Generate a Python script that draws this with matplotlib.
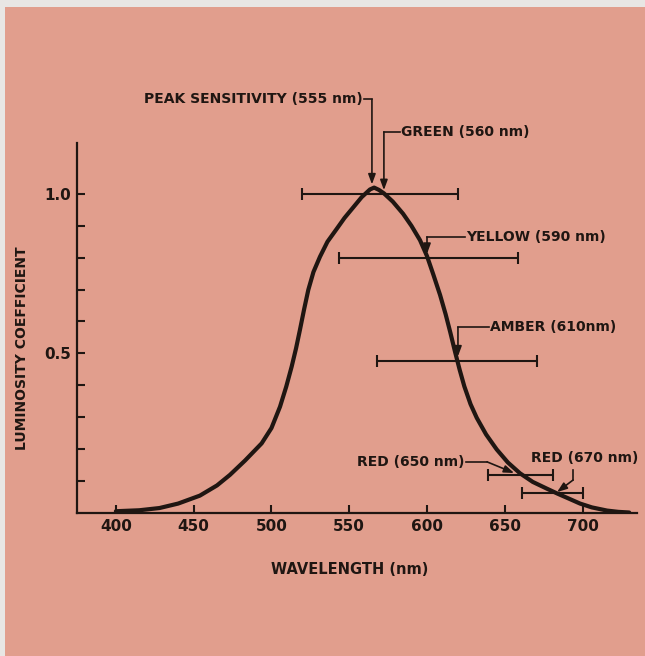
import matplotlib
matplotlib.use("Agg")
import matplotlib.pyplot as plt
from matplotlib.patches import Rectangle

# Curva de luminosidad (longitud de onda en nm, coeficiente)
longitud_onda = [400, 415, 428, 440, 454, 465, 473.3, 483, 493.7, 500, 505.5,
                 509.5, 513, 515.8, 518.3, 521, 523.7, 527, 531.2, 536, 541.9,
                 547, 552.6, 558, 563.3, 566, 569, 572.3, 578, 584.6, 590, 595.5,
                 600, 604, 608.4, 612, 615, 618, 621, 624, 628, 632, 638, 644.8,
                 652, 659.8, 668, 677, 684, 691, 698.4, 706, 715.8, 723, 730]
luminosidad = [0.004, 0.007, 0.014, 0.028, 0.053, 0.085, 0.118, 0.163, 0.217,
               0.265, 0.332, 0.395, 0.458, 0.515, 0.573, 0.638, 0.699, 0.755,
               0.803, 0.850, 0.890, 0.925, 0.958, 0.990, 1.014, 1.02, 1.013,
               1.002, 0.976, 0.938, 0.900, 0.855, 0.805, 0.748, 0.683, 0.622,
               0.565, 0.505, 0.448, 0.396, 0.340, 0.297, 0.245, 0.198, 0.157,
               0.123, 0.096, 0.075, 0.059, 0.044, 0.028, 0.016, 0.006, 0.002, 0.0]

# Barras de ancho espectral (izquierda, derecha, nivel)
barra_izq = [519.6, 543.4, 567.8, 639.2, 661.1]
barra_der = [620.0, 658.5, 670.7, 681.0, 700.3]
barra_nivel = [1.0, 0.80, 0.475, 0.118, 0.061]

# Etiquetas de los ejes
ticks_x = [400, 450, 500, 550, 600, 650, 700]
ticks_y_mayores = [0.5, 1.0]
ticks_y_menores = [0.1, 0.2, 0.3, 0.4, 0.6, 0.7, 0.8, 0.9]

# Anotaciones: texto, posición del texto, alineación, trazo guía (último punto = punta)
anot_textos = ["PEAK SENSITIVITY (555 nm)", "GREEN (560 nm)", "YELLOW (590 nm)",
               "AMBER (610nm)", "RED (650 nm)", "RED (670 nm)"]
anot_pos = [(558.8, 1.297), (583.3, 1.195), (625.1, 0.865), (640.5, 0.582),
            (624.4, 0.159), (701.5, 0.171)]
anot_ha = ["right", "left", "left", "left", "right", "center"]
anot_guias = [
    [(559.5, 1.297), (564.6, 1.297), (564.6, 1.03)],
    [(582.6, 1.195), (572.3, 1.195), (572.3, 1.012)],
    [(624.4, 0.865), (600.0, 0.865), (600.0, 0.812)],
    [(639.8, 0.582), (619.9, 0.582), (619.9, 0.49)],
    [(625.2, 0.159), (638.6, 0.159), (656.0, 0.124)],
    [(693.9, 0.134), (693.9, 0.102), (683.6, 0.064)],
]

fondo = "#e19e8d"
tinta = "#1f1612"

plt.rcParams["font.family"] = ["DejaVu Sans"]
plt.rcParams["font.weight"] = "bold"

fig = plt.figure(figsize=(6.45, 6.56), dpi=100, facecolor="#e8e6e4")
# Papel salmón con un borde claro arriba y a la izquierda
fig.patches.append(Rectangle((5 / 645, 0), 1, (656 - 7) / 656,
                             transform=fig.transFigure, facecolor=fondo,
                             edgecolor="none", zorder=-10))

ax = fig.add_axes([77 / 645, (656 - 512.5) / 656, 560 / 645, 369.5 / 656])
ax.set_facecolor("none")
ax.set_xlim(375, 735)
ax.set_ylim(0, 1.16)

# Curva principal
ax.plot(longitud_onda, luminosidad, color=tinta, lw=3.0,
        solid_capstyle="round", solid_joinstyle="round", zorder=3)

# Barras horizontales con remates
for izq, der, nivel in zip(barra_izq, barra_der, barra_nivel):
    centro = (izq + der) / 2
    ax.errorbar(centro, nivel, xerr=(der - izq) / 2, fmt="none",
                ecolor=tinta, elinewidth=1.5, capsize=4.5, capthick=1.5, zorder=2)

# Anotaciones con flechas
for texto, pos, ha, guia in zip(anot_textos, anot_pos, anot_ha, anot_guias):
    ax.text(pos[0], pos[1], texto, ha=ha, va="center", fontsize=10,
            fontweight="bold", color=tinta, clip_on=False)
    xs = [p[0] for p in guia[:-1]]
    ys = [p[1] for p in guia[:-1]]
    ax.plot(xs, ys, color=tinta, lw=1.2, clip_on=False)
    ax.annotate("", xy=guia[-1], xytext=guia[-2], annotation_clip=False,
                arrowprops=dict(arrowstyle="-|>,head_length=0.6,head_width=0.22",
                                color=tinta, lw=1.2, shrinkA=0, shrinkB=0))

# Ejes
for lado in ["top", "right"]:
    ax.spines[lado].set_visible(False)
for lado in ["left", "bottom"]:
    ax.spines[lado].set_color(tinta)
    ax.spines[lado].set_linewidth(1.6)

ax.set_xticks(ticks_x)
ax.set_xticklabels([str(t) for t in ticks_x])
ax.set_yticks(ticks_y_mayores)
ax.set_yticklabels(["0.5", "1.0"])
ax.set_yticks(ticks_y_menores, minor=True)
ax.tick_params(axis="both", which="both", direction="in", length=6, width=1.5,
               color=tinta, labelcolor=tinta, labelsize=11)
ax.tick_params(axis="x", pad=5)
ax.tick_params(axis="y", pad=4)

ax.text(0.4875, -0.153, "WAVELENGTH (nm)", transform=ax.transAxes,
        ha="center", va="center", fontsize=10.5, fontweight="bold", color=tinta)
ax.text(-0.098, 0.445, "LUMINOSITY COEFFICIENT", transform=ax.transAxes,
        ha="center", va="center", rotation=90, fontsize=10,
        fontweight="bold", color=tinta)

fig.savefig("out.png", dpi=100, facecolor=fig.get_facecolor())
